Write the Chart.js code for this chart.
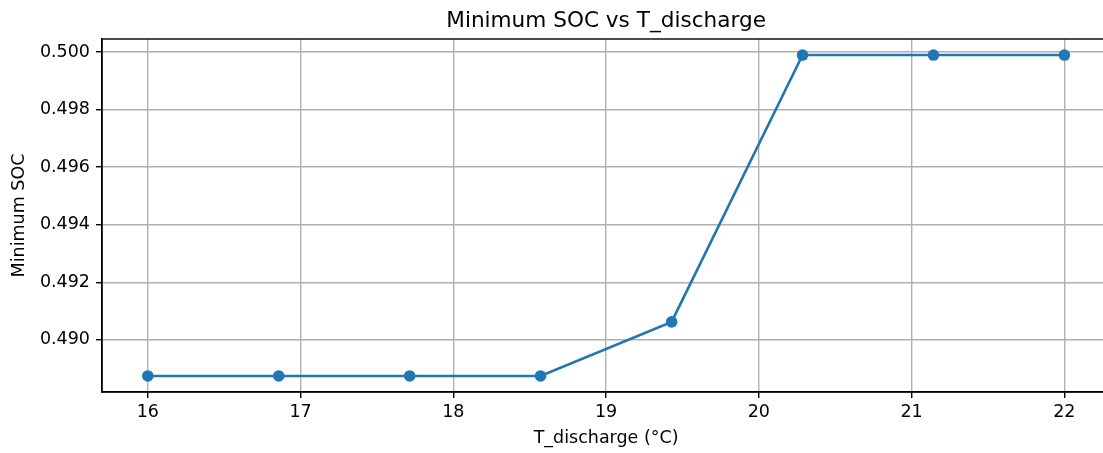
<!DOCTYPE html>
<html>
<head>
<meta charset="utf-8">
<style>
  html, body { margin: 0; padding: 0; background: #fff; overflow: hidden; }
  #chart { display: block; }
</style>
<script src="https://cdn.jsdelivr.net/npm/chart.js@4/dist/chart.umd.min.js"></script>
</head>
<body>
<canvas id="chart" width="1116" height="453" style="width:1116px;height:453px"></canvas>
<script>
// values
const tDischarge = [16, 16.857, 17.714, 18.571, 19.429, 20.286, 21.143, 22];
const minSoc = [0.48874, 0.48874, 0.48874, 0.48874, 0.49062, 0.4999, 0.4999, 0.4999];
const xTicks = [16, 17, 18, 19, 20, 21, 22];
const yTicks = [0.490, 0.492, 0.494, 0.496, 0.498, 0.500];
const chartTitle = 'Minimum SOC vs T_discharge';

const FONT = 'DejaVu Sans';
const BLUE = '#1f77b4';

// matplotlib style 5% margins around the data
function padRange(vals) {
    const lo = Math.min(...vals), hi = Math.max(...vals);
    const m = (hi - lo) * 0.05;
    return [lo - m, hi + m];
}
const [xMin, xMax] = padRange(tDischarge);
const [yMin, yMax] = padRange(minSoc);

// axes frame + title centred over the plot area (like matplotlib)
const frame = {
    id: 'frame',
    afterDraw(chart) {
        const { ctx, chartArea: a } = chart;
        ctx.save();
        ctx.strokeStyle = '#000';
        ctx.lineWidth = 1.4;
        ctx.strokeRect(a.left, a.top, a.right - a.left, a.bottom - a.top);
        ctx.fillStyle = '#000';
        ctx.font = '21.6px "' + FONT + '"';
        ctx.textAlign = 'center';
        ctx.textBaseline = 'alphabetic';
        ctx.fillText(chartTitle, (a.left + a.right) / 2, 27);
        ctx.restore();
    }
};

new Chart(document.getElementById('chart'), {
    type: 'line',
    data: {
        datasets: [{
            data: tDischarge.map((x, i) => ({ x: x, y: minSoc[i] })),
            borderColor: BLUE,
            backgroundColor: BLUE,
            borderWidth: 2.6,
            pointRadius: 5.8,
            pointBorderWidth: 0,
            pointBackgroundColor: BLUE,
            tension: 0,
            fill: false
        }]
    },
    options: {
        responsive: false,
        devicePixelRatio: 1,
        animation: false,
        layout: { padding: { top: 39, left: 0, right: 0, bottom: 0 } },
        plugins: {
            legend: { display: false },
            tooltip: { enabled: false },
            title: { display: false }
        },
        scales: {
            x: {
                type: 'linear',
                min: xMin,
                max: xMax,
                afterBuildTicks: (s) => { s.ticks = xTicks.map(v => ({ value: v })); },
                afterFit: (s) => {
                    s.height = 61;
                    s.paddingLeft = 0;
                    s.paddingRight = 0;
                },
                ticks: {
                    includeBounds: false,
                    color: '#000',
                    padding: 4,
                    maxRotation: 0,
                    font: { family: FONT, size: 17.5 },
                    callback: (v) => String(v)
                },
                grid: {
                    color: '#b0b0b0',
                    lineWidth: 1.4,
                    tickLength: 6,
                    tickColor: '#000',
                    tickWidth: 1.4
                },
                border: { display: true, color: '#000', width: 1.4 },
                title: {
                    display: true,
                    text: 'T_discharge (°C)',
                    color: '#000',
                    font: { family: FONT, size: 17.5 },
                    padding: { top: 0, bottom: 4.5 }
                }
            },
            y: {
                type: 'linear',
                min: yMin,
                max: yMax,
                afterBuildTicks: (s) => { s.ticks = yTicks.map(v => ({ value: v })); },
                afterFit: (s) => {
                    s.width = 102;
                    s.paddingTop = 0;
                    s.paddingBottom = 0;
                },
                ticks: {
                    includeBounds: false,
                    color: '#000',
                    padding: 6,
                    font: { family: FONT, size: 17.5 },
                    callback: (v) => v.toFixed(3)
                },
                grid: {
                    color: '#b0b0b0',
                    lineWidth: 1.4,
                    tickLength: 6,
                    tickColor: '#000',
                    tickWidth: 1.4
                },
                border: { display: true, color: '#000', width: 1.4 },
                title: {
                    display: true,
                    text: 'Minimum SOC',
                    color: '#000',
                    font: { family: FONT, size: 17.5 },
                    padding: { top: 9, bottom: 0 }
                }
            }
        }
    },
    plugins: [frame]
});
</script>
</body>
</html>
